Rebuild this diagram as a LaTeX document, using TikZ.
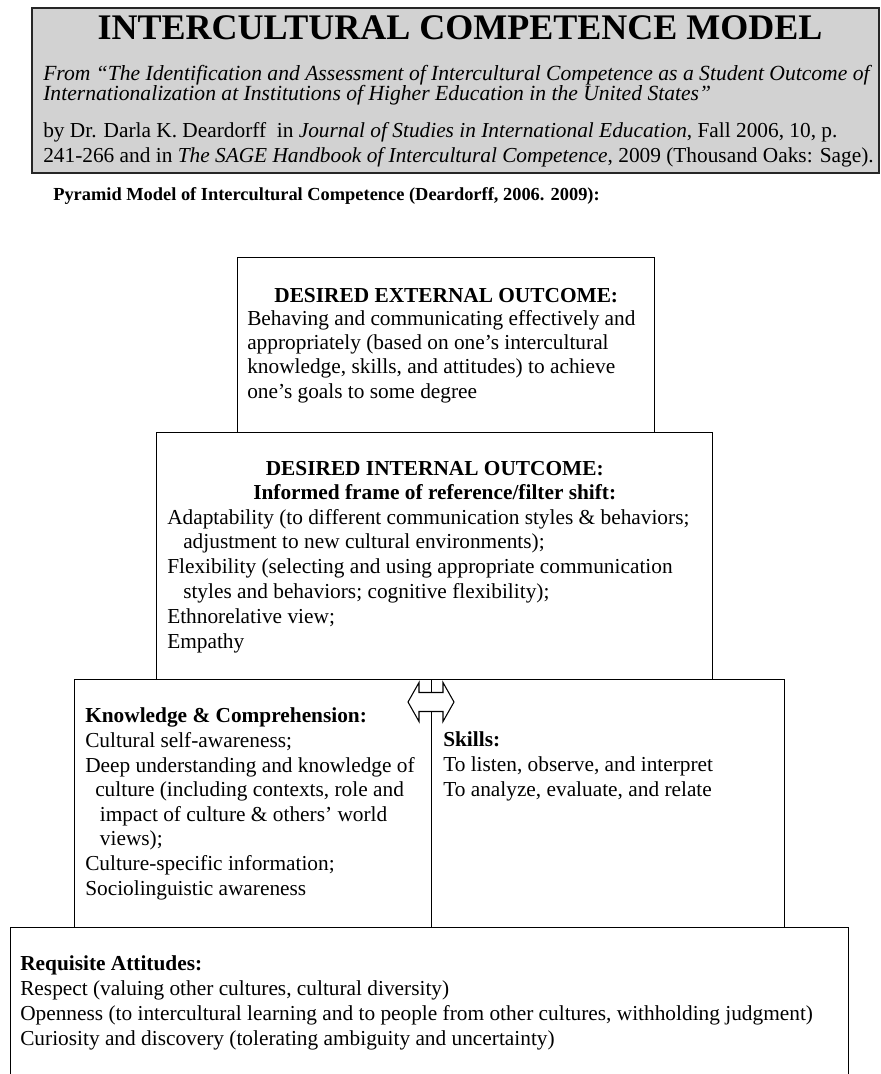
\documentclass[tikz,border=0pt]{standalone}
\usepackage{fontspec}
\setmainfont{Liberation Serif}
\usetikzlibrary{calc}
\definecolor{headgray}{RGB}{210,210,210}
\def\px{0.75pt}
\tikzset{
    border/.style = {
        draw, rectangle, inner sep=0pt, line width=1.1pt, anchor=north west
    },
    headborder/.style = {
        border, fill=headgray, line width=1.6pt, draw=black!85
    },
    % multi-line texts sit on the baseline of their last line
    txt/.style = {
        inner sep=0pt, anchor=base west, align=left, font=\fontsize{16}{#1}\selectfont
    },
    txt/.default = {18.5pt},
    heading/.style = {
        inner sep=0pt, anchor=base, align=center, font=\fontsize{16}{18pt}\selectfont\bfseries
    },
}

\begin{document}
\begin{tikzpicture}[x=\px, y=-\px]
        \useasboundingbox (0,0) rectangle (881,1074);
        % Header
        \node[headborder, minimum width=847*\px, minimum height=165*\px] (head) at (31,7) {};
        \node[heading, font=\fontsize{27}{30pt}\selectfont\bfseries] (title) at (460,40) {INTERCULTURAL COMPETENCE MODEL};
        \node[txt={15pt}, font=\fontsize{16.2}{15pt}\selectfont\itshape] (source) at (43,100) {From “The Identification and Assessment of Intercultural Competence as a Student Outcome of\\Internationalization at Institutions of Higher Education in the United States”};
        \node[txt={18.75pt}] (citation) at (43,162) {by Dr. Darla K. Deardorff\ \ in \textit{Journal of Studies in International Education}, Fall 2006, 10, p.\\241-266 and in \textit{The SAGE Handbook of Intercultural Competence}, 2009 (Thousand Oaks: Sage).};
        \node[txt, font=\fontsize{13.8}{16pt}\selectfont\bfseries] (pyramid) at (53,200) {Pyramid Model of Intercultural Competence (Deardorff, 2006. 2009):};

        % Place the blocks
        \node[border, minimum width=417*\px, minimum height=175*\px] (ext) at (237,257) {};
        \node[border, minimum width=556*\px, minimum height=247*\px] (int) at (156,432) {};
        \node[border, minimum width=357*\px, minimum height=248*\px] (know) at (74,679) {};
        \node[border, minimum width=353*\px, minimum height=248*\px] (skill) at (431,679) {};
        \node[border, minimum width=838*\px, minimum height=160*\px] (att) at (10,927) {};

        % Fill the blocks
        \node[heading] (exthead) at ($(ext.north)+(0,45)$) {DESIRED EXTERNAL OUTCOME:};
        \node[txt={18.25pt}] (exttext) at (247,398) {Behaving and communicating effectively and\\appropriately (based on one’s intercultural\\knowledge, skills, and attitudes) to achieve\\one’s goals to some degree};
        \node[heading] (inthead) at ($(int.north)+(0,67)$) {DESIRED INTERNAL OUTCOME:\\Informed frame of reference/filter shift:};
        \node[txt={18.6pt}] (inttext) at (167,648) {Adaptability (to different communication styles \& behaviors;\\\hspace{12pt}adjustment to new cultural environments);\\Flexibility (selecting and using appropriate communication\\\hspace{12pt}styles and behaviors; cognitive flexibility);\\Ethnorelative view;\\Empathy};
        \node[txt={18.43pt}] (knowtext) at (85,895) {\textbf{Knowledge \& Comprehension:}\\Cultural self-awareness;\\Deep understanding and knowledge of\\\hspace{7.5pt}culture (including contexts, role and\\\hspace{11pt}impact of culture \& others’ world\\\hspace{11pt}views);\\Culture-specific information;\\Sociolinguistic awareness};
        \node[txt={18.4pt}] (skilltext) at (443,796) {\textbf{Skills:}\\To listen, observe, and interpret\\To analyze, evaluate, and relate};
        \node[txt={18.75pt}] (atttext) at (20,1045) {\textbf{Requisite Attitudes:}\\Respect (valuing other cultures, cultural diversity)\\Openness (to intercultural learning and to people from other cultures, withholding judgment)\\Curiosity and discovery (tolerating ambiguity and uncertainty)};

        % Draw the double arrow
        \coordinate (arr) at (431,702);
        \draw[fill=white, line width=0.8pt] ([xshift=-23*\px] arr) -- ++(11,-19.5) -- ++(0,10) -- ++(24,0) -- ++(0,-10) -- ++(11,19.5) -- ++(-11,19.5) -- ++(0,-10) -- ++(-24,0) -- ++(0,10) -- cycle;
    \end{tikzpicture}
\end{document}
